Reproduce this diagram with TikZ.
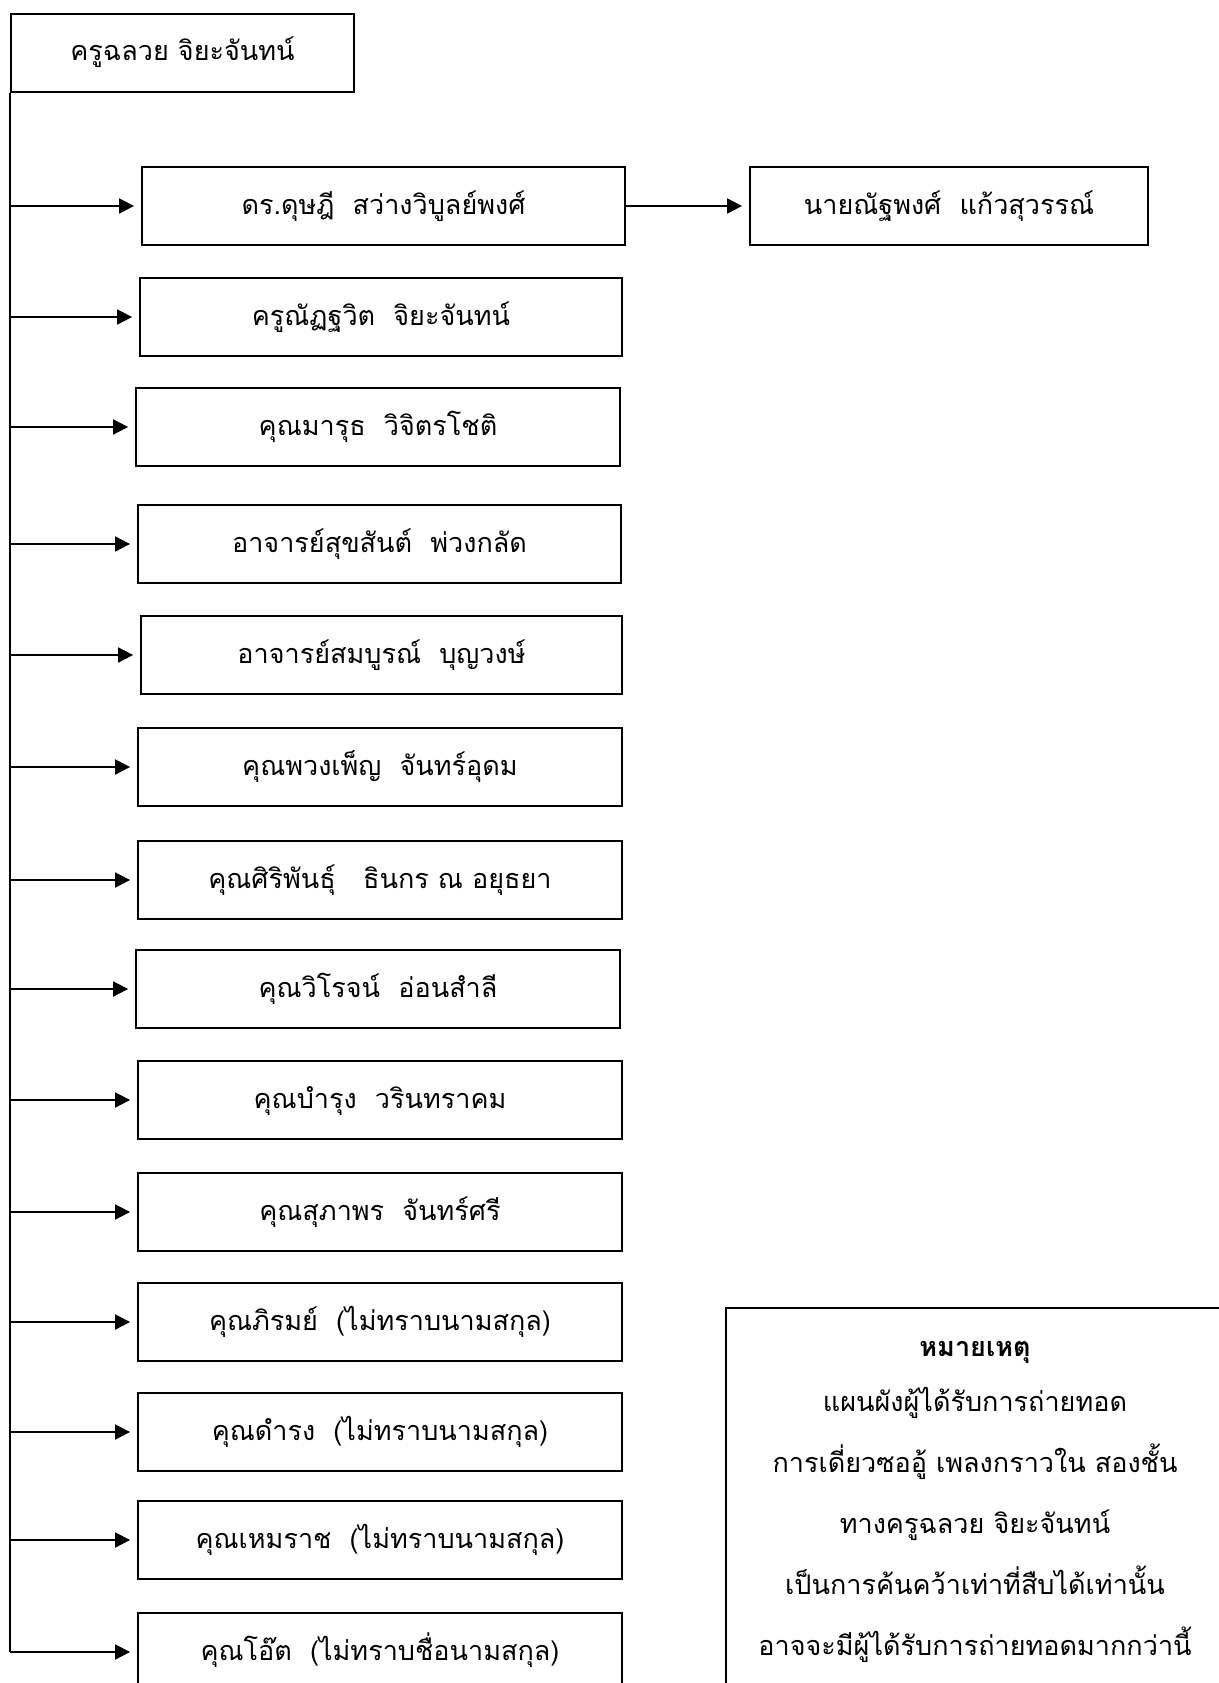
\documentclass[tikz,border=0pt]{standalone}
\usepackage{fontspec}
\setmainfont[Script=Thai]{Loma}
\usetikzlibrary{arrows.meta}
\tikzset{
  box/.style={draw=black, line width=1.8pt, fill=white, inner sep=0pt, minimum height=78pt,
              text height=24pt, text depth=8pt, font=\fontsize{27}{32}\selectfont},
  arr/.style={line width=1.8pt, shorten >=7pt, -{Triangle[length=15pt,width=15pt]}},
  line/.style={line width=1.8pt},
  notetxt/.style={anchor=base, inner sep=0pt, font=\fontsize{27}{32}\selectfont}
}
\begin{document}
\begin{tikzpicture}[x=1pt,y=-1pt]
\useasboundingbox[fill=white] (0,0) rectangle (1218,1683);
% top box
\node[box, minimum width=343pt] (top) at (182.5,53) {ครูฉลวย จิยะจันทน์};
% children
\node[box, minimum width=483pt] (b1) at (383.5,206) {ดร.ดุษฎี\ \ สว่างวิบูลย์พงศ์};
\node[box, minimum width=398pt] (r1) at (949,206) {นายณัฐพงศ์\ \ แก้วสุวรรณ์};
\node[box, minimum width=482pt] (b2) at (381,317) {ครูณัฏฐวิต\ \ จิยะจันทน์};
\node[box, minimum width=484pt] (b3) at (378,427) {คุณมารุธ\ \ วิจิตรโชติ};
\node[box, minimum width=483pt] (b4) at (379.5,544) {อาจารย์สุขสันต์\ \ พ่วงกลัด};
\node[box, minimum width=481pt] (b5) at (381.5,655) {อาจารย์สมบูรณ์\ \ บุญวงษ์};
\node[box, minimum width=484pt] (b6) at (380,767) {คุณพวงเพ็ญ\ \ จันทร์อุดม};
\node[box, minimum width=484pt] (b7) at (380,880) {คุณศิริพันธุ์\ \ \ ธินกร ณ อยุธยา};
\node[box, minimum width=484pt] (b8) at (378,989) {คุณวิโรจน์\ \ อ่อนสำลี};
\node[box, minimum width=484pt] (b9) at (380,1100) {คุณบำรุง\ \ วรินทราคม};
\node[box, minimum width=484pt] (b10) at (380,1212) {คุณสุภาพร\ \ จันทร์ศรี};
\node[box, minimum width=484pt] (b11) at (380,1322) {คุณภิรมย์\ \ (ไม่ทราบนามสกุล)};
\node[box, minimum width=484pt] (b12) at (380,1432) {คุณดำรง\ \ (ไม่ทราบนามสกุล)};
\node[box, minimum width=484pt] (b13) at (380,1540) {คุณเหมราช\ \ (ไม่ทราบนามสกุล)};
\node[box, minimum width=484pt] (b14) at (380,1652) {คุณโอ๊ต\ \ (ไม่ทราบชื่อนามสกุล)};
% trunk
\coordinate (tb) at (top.south west |- b14.west);
\draw[line] (top.south west) -- (tb);
\foreach \i in {1,...,14}{
  \draw[arr] (top.south west |- b\i.west) -- (b\i.west);
}
\draw[arr] (b1.east) -- (r1.west);
% note box
\node[draw=black, line width=1.8pt, minimum width=520pt, minimum height=400pt, anchor=north west, inner sep=0pt] (note) at (725,1307) {};
\node[notetxt, font=\fontsize{27}{32}\selectfont\bfseries] (n0) at (975,1356) {หมายเหตุ};
\node[notetxt] (n1) at (975,1411) {แผนผังผู้ได้รับการถ่ายทอด};
\node[notetxt] (n2) at (975,1472) {การเดี่ยวซออู้ เพลงกราวใน สองชั้น};
\node[notetxt] (n3) at (975,1533) {ทางครูฉลวย จิยะจันทน์};
\node[notetxt] (n4) at (975,1594) {เป็นการค้นคว้าเท่าที่สืบได้เท่านั้น};
\node[notetxt] (n5) at (975,1655) {อาจจะมีผู้ได้รับการถ่ายทอดมากกว่านี้};
\end{tikzpicture}
\end{document}
